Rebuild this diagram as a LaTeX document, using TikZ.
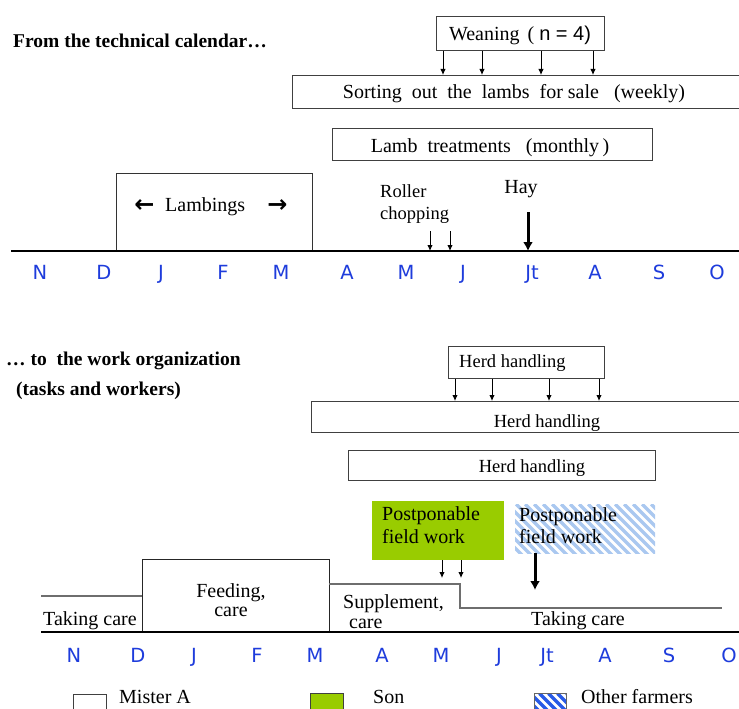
\documentclass[tikz,border=0pt]{standalone}
\usepackage{fontspec}
\setmainfont{Liberation Serif}
\newfontfamily\monthfont{DejaVu Sans}
\newfontfamily\arrowfont{DejaVu Sans}
\newfontfamily\sansfont{Liberation Sans}
\usetikzlibrary{arrows.meta}
\definecolor{monthblue}{RGB}{30,60,220}
\definecolor{songreen}{RGB}{153,204,0}
\definecolor{stripelight}{RGB}{170,200,240}
\definecolor{stripedark}{RGB}{40,90,230}
\definecolor{stepgray}{RGB}{110,110,110}
\begin{document}
\begin{tikzpicture}[x=1pt,y=-1pt,
  txt/.style={font=\fontsize{20}{23}\selectfont, inner sep=0pt},
  smalltxt/.style={font=\fontsize{18.5}{22}\selectfont, inner sep=0pt},
  headtxt/.style={font=\fontsize{19.5}{23}\selectfont\bfseries, inner sep=0pt, anchor=base west},
  monthtxt/.style={font=\fontsize{19.5}{21}\monthfont, text=monthblue, inner sep=0pt, anchor=base},
  taskbox/.style={draw=black!75, line width=1pt, inner sep=0pt, anchor=north west},
  sonbox/.style={fill=songreen, inner sep=0pt, anchor=north west},
  otherbox/.style={inner sep=0pt, anchor=north west,
    path picture={\foreach \i in {-80,-71,...,160}{\draw[line width=3.2pt, stripelight]
      ([xshift=\i pt]path picture bounding box.north west) -- ++(90,90);}}},
  otherlegend/.style={draw=black!60, line width=0.8pt, inner sep=0pt, anchor=north west,
    path picture={\foreach \i in {-40,-31,...,50}{\draw[line width=3.2pt, stripedark]
      ([xshift=\i pt]path picture bounding box.north west) -- ++(50,50);}}},
  thinarrow/.style={line width=1pt, -{Latex[length=6pt,width=5.5pt]}},
  thickarrow/.style={line width=3pt, -{Latex[length=9pt,width=10pt]}},
  axis/.style={line width=1.2pt, black},
  stepline/.style={line width=1.5pt, stepgray},
  lambarrow/.style={font=\fontsize{24}{26}\arrowfont\bfseries, inner sep=0pt},
]
\useasboundingbox (0,0) rectangle (739,709);
\fill[white] (0,0) rectangle (739,709);

% ---------- top part ----------
\node[headtxt] (head1) at (13,48) {From the technical calendar…};

\node[taskbox, minimum width=168pt, minimum height=34pt] (wean) at (436,16) {};
\node[txt, anchor=base] (weantxt) at (520,41) {Weaning\hspace{0.4em}(\hspace{0.25em}{\sansfont n = 4)}};

\node[taskbox, minimum width=458pt, minimum height=33pt] (sort) at (292,75) {};
\node[txt, anchor=base] (sorttxt) at (514,99) {Sorting~ out~ the~ lambs~ for sale~~ (weekly)};

\foreach \n/\x in {1/443,2/482,3/541,4/593}{
  \coordinate (wa\n) at (\x,0);
  \draw[thinarrow] (wean.south -| wa\n) -- (sort.north -| wa\n);
}

\node[taskbox, minimum width=320pt, minimum height=32pt] (treat) at (332,128) {};
\node[txt, anchor=base] (treattxt) at (490,152) {Lamb~ treatments~~ (monthly\,)};

\coordinate (tlaL) at (11,251);
\coordinate (tlaR) at (739,251);
\draw[axis] (tlaL) -- (tlaR);

\draw[line width=1pt, black!80] (116,250) |- (312,173) -- (312,250);
\node[lambarrow] (larrL) at (144.5,206) {←};
\node[txt, anchor=base west] (lambtxt) at (165,211) {Lambings};
\node[lambarrow] (larrR) at (277.5,206) {→};

\node[smalltxt, anchor=base west] (roll1) at (380,197) {Roller};
\node[smalltxt, anchor=base west] (roll2) at (380,219) {chopping};
\coordinate (rc1) at (430,231);
\coordinate (rc2) at (450,231);
\draw[thinarrow] (rc1) -- (rc1 |- tlaL);
\draw[thinarrow] (rc2) -- (rc2 |- tlaL);

\node[txt, anchor=base] (hay) at (521,193) {Hay};
\coordinate (haytop) at (528,212);
\draw[thickarrow] (haytop) -- (haytop |- tlaL);

\foreach \m/\x [count=\k] in {N/40,D/104,J/161,F/223,M/281,A/347,M/406,J/463,Jt/532,A/595,S/659,O/717}{
  \node[monthtxt] (ma\k) at (\x,279) {\m};
}

% ---------- bottom part ----------
\node[headtxt] (head2) at (6,365) {…~to~ the work organization};
\node[headtxt] (head3) at (16,395) {(tasks and workers)};

\node[taskbox, minimum width=156pt, minimum height=32pt] (herd1) at (448,346) {};
\node[smalltxt, anchor=base west] (herd1txt) at (459,367) {Herd handling};
\node[taskbox, minimum width=439pt, minimum height=31pt] (herd2) at (311,401) {};
\node[smalltxt, anchor=base] (herd2txt) at (547,427) {Herd handling};
\foreach \n/\x in {1/455,2/492,3/549,4/599}{
  \coordinate (ha\n) at (\x,0);
  \draw[thinarrow] (herd1.south -| ha\n) -- (herd2.north -| ha\n);
}
\node[taskbox, minimum width=307pt, minimum height=30pt] (herd3) at (348,450) {};
\node[smalltxt, anchor=base] (herd3txt) at (532,472) {Herd handling};

\node[sonbox, minimum width=132pt, minimum height=59pt] (son) at (372,501) {};
\node[txt, anchor=base west] (son1) at (382,520) {Postponable};
\node[txt, anchor=base west] (son2) at (382,543) {field work};

\node[otherbox, minimum width=140pt, minimum height=49pt] (other) at (515,504) {};
\node[txt, anchor=base west] (oth1) at (519,521) {Postponable};
\node[txt, anchor=base west] (oth2) at (519,543) {field work};

\coordinate (sa1) at (442,578);
\coordinate (sa2) at (461,578);
\draw[thinarrow] (son.south -| sa1) -- (sa1);
\draw[thinarrow] (son.south -| sa2) -- (sa2);
\coordinate (oa) at (535,590);
\draw[thickarrow] (other.south -| oa) -- (oa);

\coordinate (tlbL) at (41,632);
\coordinate (tlbR) at (739,632);
\draw[stepline] (41,596) -- (142,596);
\draw[line width=1pt, black!85] (142,632) |- (329,559) -- (329,632);
\draw[stepline] (329,584) -- (460,584) -- (460,608) -- (722,608);
\draw[axis] (tlbL) -- (tlbR);

\node[txt, anchor=base west] (take1) at (43,625) {Taking care};
\node[txt, anchor=base] (feed1) at (231,597) {Feeding,};
\node[txt, anchor=base] (feed2) at (231,616) {care};
\node[txt, anchor=base west] (supp1) at (343,608) {Supplement,};
\node[txt, anchor=base west] (supp2) at (349,628) {care};
\node[txt, anchor=base] (take2) at (578,625) {Taking care};

\foreach \m/\x [count=\k] in {N/74,D/138,J/194,F/257,M/315,A/382,M/441,J/499,Jt/547,A/605,S/669,O/729}{
  \node[monthtxt] (mb\k) at (\x,662) {\m};
}

% ---------- legend ----------
\node[taskbox, minimum width=33pt, minimum height=26pt] (legA) at (73,694) {};
\node[txt, anchor=base west] (legAtxt) at (119,703) {Mister A};
\node[sonbox, draw=black!75, line width=1pt, minimum width=33pt, minimum height=27pt] (legS) at (310,693) {};
\node[txt, anchor=base west] (legStxt) at (373,703) {Son};
\node[otherlegend, minimum width=32pt, minimum height=27pt] (legO) at (534,693) {};
\node[txt, anchor=base west] (legOtxt) at (581,703) {Other farmers};
\end{tikzpicture}
\end{document}
